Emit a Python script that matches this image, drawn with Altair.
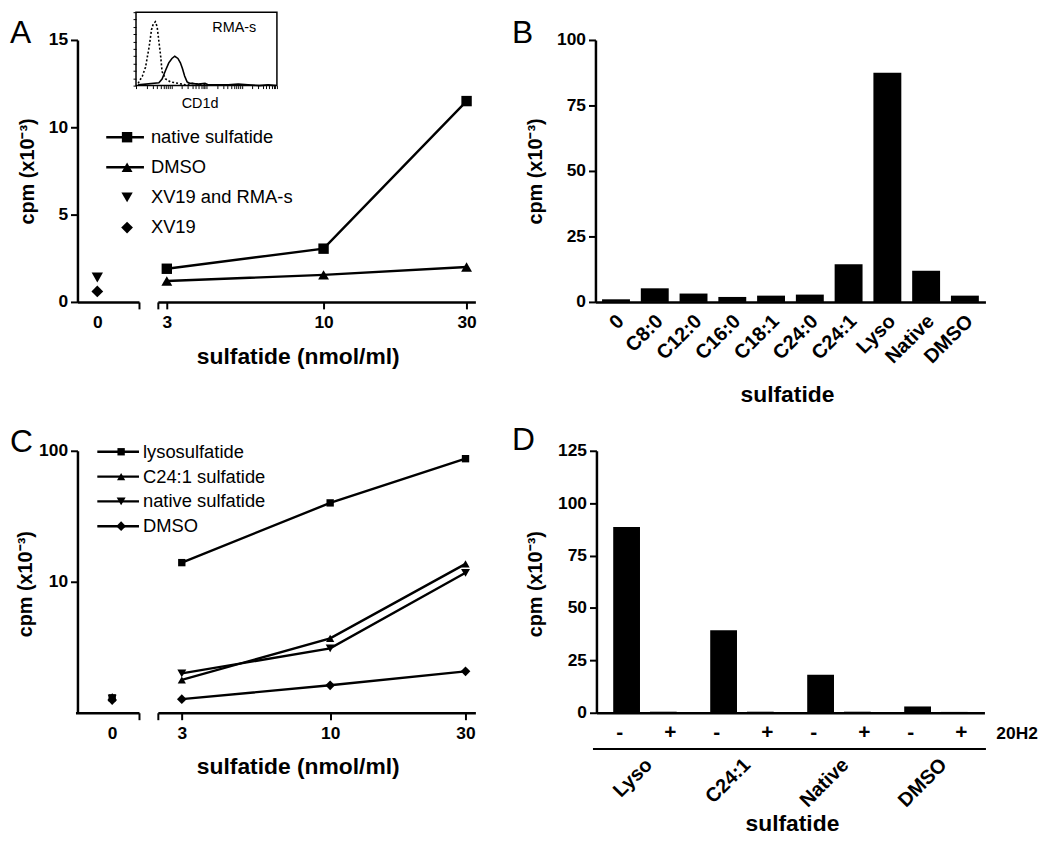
import altair as alt
import pandas as pd
import numpy as np

FONT = "Liberation Sans"
W, H = 1042, 828


def c(v):
    # page pixel -> chart pixel (page has an 8px margin)
    return v - 8


# ---------------- data ----------------
# Panel A
doses = [3, 10, 30]
a_native = [1.9, 3.05, 11.5]
a_dmso = [1.2, 1.55, 2.0]
a_series = ["native sulfatide", "DMSO", "XV19 and RMA-s", "XV19"]
a_shapes = ["square", "triangle-up", "triangle-down", "diamond"]
a_sizes = [110, 140, 140, 120]
a_zero_series = ["XV19 and RMA-s", "XV19"]
a_zero_vals = [1.4, 0.6]

# inset histogram (log decades vs counts)
inset_dot_x = [0.06, 0.18, 0.27, 0.37, 0.44, 0.49, 0.55, 0.60, 0.65, 0.70, 0.74, 0.84, 0.98, 1.21, 1.40, 1.59, 2.06]
inset_dot_y = [3, 13, 25, 52, 76, 84, 87, 80, 60, 40, 19, 9, 5, 3, 1, 3, 1]
inset_solid_x = [0.06, 0.65, 0.74, 0.84, 0.93, 1.02, 1.10, 1.19, 1.26, 1.32, 1.38, 1.45, 1.54, 1.78, 1.96,
                 2.06, 2.30, 2.62, 2.90, 3.18, 3.50, 3.75, 3.98]
inset_solid_y = [1, 4, 9, 21, 31, 37, 40, 37, 31, 23, 13, 5, 3, 2, 3, 1, 1, 1, 2, 1, 0, 1, 0]

# Panel B
b_cats = ["0", "C8:0", "C12:0", "C16:0", "C18:1", "C24:0", "C24:1", "Lyso", "Native", "DMSO"]
b_vals = [1.0, 5.2, 3.2, 1.9, 2.4, 2.8, 14.4, 87.5, 11.9, 2.4]

# Panel C
c_series = ["lysosulfatide", "C24:1 sulfatide", "native sulfatide", "DMSO"]
c_shapes = ["square", "triangle-up", "triangle-down", "diamond"]
c_sizes = [55, 95, 95, 85]
c_lyso = [14.0, 40.0, 87.0]
c_c241 = [1.78, 3.7, 13.7]
c_native = [2.0, 3.1, 11.7]
c_dmso = [1.27, 1.62, 2.07]
c_zero = [1.3, 1.33, 1.28, 1.25]

# Panel D
d_groups = ["Lyso", "C24:1", "Native", "DMSO"]
d_treat = ["-", "+"]
d_minus = [88.6, 39.4, 18.1, 3.0]
d_plus = [0.5, 0.5, 0.5, 0.4]


# ---------------- helpers ----------------
def axis(**kw):
    base = dict(domainColor="black", domainWidth=2.5, tickColor="black", tickWidth=2,
                labelColor="black", labelFont=FONT, labelFontSize=17.5, labelFontWeight="bold",
                titleFont=FONT, titleColor="black", titleFontWeight="bold", grid=False,
                labelFlush=False, labelOverlap=False)
    base.update(kw)
    return alt.Axis(**base)


def cpm_axis(x_px, values, title_x_px, title_y_px):
    return axis(orient="left", offset=-c(x_px), values=values, tickSize=7, labelPadding=3,
                title="cpm (x10⁻³)", titleFontSize=20, titleAngle=270, titleAlign="center",
                titleBaseline="middle", titleX=title_x_px - x_px, titleY=c(title_y_px))


def bottom_axis(y_px, **kw):
    return axis(orient="bottom", offset=c(y_px) - H, **kw)


def letter(t, x_px, y_px):
    return alt.Chart(pd.DataFrame({"t": [t]})).mark_text(
        align="left", baseline="alphabetic", font=FONT, fontSize=32, color="black"
    ).encode(x=alt.value(c(x_px)), y=alt.value(c(y_px)), text="t:N")


layers = []

# ---------------- Panel A ----------------
xAr = alt.Scale(type="log", domain=[2.8, 32.1], range=[c(159), c(479)], nice=False)
xAl = alt.Scale(domain=[-1, 2.1], range=[c(78), c(140)], nice=False, zero=False)
yA = alt.Scale(domain=[0, 15], range=[c(301), c(37)], nice=False, zero=False)
shA = alt.Scale(domain=a_series, range=a_shapes)
szA = alt.Scale(domain=a_series, range=a_sizes)

dfA = pd.DataFrame({"dose": doses * 2, "cpm": a_native + a_dmso,
                    "series": [a_series[0]] * 3 + [a_series[1]] * 3})
layers.append(alt.Chart(dfA).mark_line(color="black", strokeWidth=2.4).encode(
    x=alt.X("dose:Q", scale=xAr, axis=bottom_axis(
        301, values=[2.8, 3, 10, 30], labelExpr="datum.value < 2.9 ? '' : format(datum.value, 'd')",
        tickSize=7, labelPadding=5, title="sulfatide (nmol/ml)", titleFontSize=23,
        titleX=c(300), titleY=55, titleAlign="center", titleBaseline="middle")),
    y=alt.Y("cpm:Q", scale=yA, axis=cpm_axis(78, [0, 5, 10, 15], 28, 169)),
    detail="series:N"))
layers.append(alt.Chart(dfA).mark_point(filled=True, color="black", opacity=1).encode(
    x=alt.X("dose:Q", scale=xAr, axis=None),
    y=alt.Y("cpm:Q", scale=yA, axis=None),
    shape=alt.Shape("series:N", scale=shA, legend=None),
    size=alt.Size("series:O", scale=szA, legend=None)))

dfA0 = pd.DataFrame({"dose": [0, 0], "cpm": a_zero_vals, "series": a_zero_series})
layers.append(alt.Chart(dfA0).mark_point(filled=True, color="black", opacity=1).encode(
    x=alt.X("dose:Q", scale=xAl, axis=bottom_axis(
        301, values=[0, 2.1], labelExpr="datum.value == 0 ? '0' : ''", tickSize=7, labelPadding=5,
        title=None, tickOpacity={"condition": {"test": "datum.value == 0", "value": 0}, "value": 1})),
    y=alt.Y("cpm:Q", scale=yA, axis=None),
    shape=alt.Shape("series:N", scale=shA, legend=None),
    size=alt.Size("series:O", scale=szA, legend=None)))

# legend A
dfAL = pd.DataFrame({"series": a_series, "line": [1, 1, 0, 0]})
yAL = alt.Scale(type="point", domain=a_series, range=[c(135), c(226)], padding=0)
layers.append(alt.Chart(dfAL).transform_filter("datum.line == 1").mark_rule(
    color="black", strokeWidth=2.4).encode(
    x=alt.value(c(107)), x2=alt.value(c(145)), y=alt.Y("series:N", scale=yAL, axis=None)))
layers.append(alt.Chart(dfAL).mark_point(filled=True, color="black", opacity=1).encode(
    x=alt.value(c(128)), y=alt.Y("series:N", scale=yAL, axis=None),
    shape=alt.Shape("series:N", scale=shA, legend=None),
    size=alt.Size("series:O", scale=szA, legend=None)))
layers.append(alt.Chart(dfAL).mark_text(
    align="left", baseline="middle", font=FONT, fontSize=18.5, color="black").encode(
    x=alt.value(c(152)), y=alt.Y("series:N", scale=yAL, axis=None), text="series:N"))

# inset
insx = alt.Scale(domain=[0, 4], range=[c(137), c(279)], nice=False, zero=False)
insy = alt.Scale(domain=[0, 100], range=[c(83), 1], nice=False, zero=False)
ins_ticks = [float(np.log10(k * 10 ** d)) for d in range(4) for k in range(1, 10)] + [4.0]
dfI = pd.DataFrame({"x": inset_dot_x + inset_solid_x,
                    "y": inset_dot_y + inset_solid_y,
                    "curve": ["isotype"] * len(inset_dot_x) + ["CD1d"] * len(inset_solid_x)})
layers.append(alt.Chart(dfI).transform_filter("datum.curve == 'isotype'").mark_line(
    color="black", strokeWidth=1.6, strokeDash=[2, 2]).encode(
    x=alt.X("x:Q", scale=insx, axis=alt.Axis(
        orient="bottom", offset=c(83) - H, values=ins_ticks, labels=False, tickSize=3, tickWidth=1,
        tickColor="black", domain=False, grid=False, title="CD1d", titleFont=FONT, titleFontSize=14.5,
        titleFontWeight="normal", titleColor="black", titleX=c(201), titleY=18,
        titleAlign="center", titleBaseline="middle")),
    y=alt.Y("y:Q", scale=insy, axis=alt.Axis(
        orient="left", offset=-c(137), values=list(range(0, 101, 10)), labels=False, tickSize=3,
        tickWidth=1, tickColor="black", domain=False, grid=False, title=None))))
layers.append(alt.Chart(dfI).transform_filter("datum.curve == 'CD1d'").mark_line(
    color="black", strokeWidth=1.6).encode(
    x=alt.X("x:Q", scale=insx, axis=None), y=alt.Y("y:Q", scale=insy, axis=None)))
layers.append(alt.Chart(pd.DataFrame({"a": [0]})).mark_rect(
    fillOpacity=0, stroke="black", strokeWidth=1.5).encode(
    x=alt.X(datum=0, scale=insx, axis=None), x2=alt.X2(datum=4),
    y=alt.Y(datum=0, scale=insy, axis=None), y2=alt.Y2(datum=100)))
layers.append(alt.Chart(pd.DataFrame({"t": ["RMA-s"]})).mark_text(
    align="center", baseline="middle", font=FONT, fontSize=14.5, color="black").encode(
    x=alt.value(c(236)), y=alt.value(c(25)), text="t:N"))

# ---------------- Panel B ----------------
xB = alt.Scale(domain=b_cats, range=[c(600), c(993)], paddingInner=0.28, paddingOuter=0.17)
yB = alt.Scale(domain=[0, 100], range=[c(301), c(37)], nice=False, zero=False)
dfB = pd.DataFrame({"cat": b_cats, "cpm": b_vals})
layers.append(alt.Chart(dfB).mark_bar(color="black").encode(
    x=alt.X("cat:N", scale=xB, sort=b_cats, axis=bottom_axis(
        301, ticks=False, labelAngle=315, labelAlign="right", labelBaseline="middle",
        labelFontSize=20, labelPadding=16, labelOffset=5, title="sulfatide", titleFontSize=23,
        titleX=c(793), titleY=93, titleAlign="center", titleBaseline="middle")),
    y=alt.Y("cpm:Q", scale=yB, axis=cpm_axis(600, [0, 25, 50, 75, 100], 540, 169))))

# ---------------- Panel C ----------------
xCr = alt.Scale(type="log", domain=[2.47, 32.5], range=[c(159), c(479)], nice=False)
xCl = alt.Scale(domain=[-1, 0.73], range=[c(76), c(140)], nice=False, zero=False)
yC = alt.Scale(type="log", domain=[1, 100], range=[c(715), c(451)], nice=False)
shC = alt.Scale(domain=c_series, range=c_shapes)
szC = alt.Scale(domain=c_series, range=c_sizes)

dfC = pd.DataFrame({"dose": doses * 4,
                    "cpm": c_lyso + c_c241 + c_native + c_dmso,
                    "series": sum([[s] * 3 for s in c_series], [])})
layers.append(alt.Chart(dfC).mark_line(color="black", strokeWidth=2.4).encode(
    x=alt.X("dose:Q", scale=xCr, axis=bottom_axis(
        715, values=[2.47, 3, 10, 30], labelExpr="datum.value < 2.9 ? '' : format(datum.value, 'd')",
        tickSize=7, labelPadding=5, title="sulfatide (nmol/ml)", titleFontSize=23,
        titleX=c(300), titleY=54, titleAlign="center", titleBaseline="middle")),
    y=alt.Y("cpm:Q", scale=yC, axis=cpm_axis(78, [10, 100], 26, 585)),
    detail="series:N"))
layers.append(alt.Chart(dfC).mark_point(filled=True, color="black", opacity=1).encode(
    x=alt.X("dose:Q", scale=xCr, axis=None),
    y=alt.Y("cpm:Q", scale=yC, axis=None),
    shape=alt.Shape("series:N", scale=shC, legend=None),
    size=alt.Size("series:O", scale=szC, legend=None)))

dfC0 = pd.DataFrame({"dose": [0] * 4, "cpm": c_zero, "series": c_series})
layers.append(alt.Chart(dfC0).mark_point(filled=True, color="black", opacity=1).encode(
    x=alt.X("dose:Q", scale=xCl, axis=bottom_axis(
        715, values=[0, 0.73], labelExpr="datum.value == 0 ? '0' : ''", tickSize=7, labelPadding=5,
        title=None, tickOpacity={"condition": {"test": "datum.value == 0", "value": 0}, "value": 1})),
    y=alt.Y("cpm:Q", scale=yC, axis=None),
    shape=alt.Shape("series:N", scale=shC, legend=None),
    size=alt.Size("series:O", scale=szC, legend=None)))

# legend C
dfCL = pd.DataFrame({"series": c_series})
yCL = alt.Scale(type="point", domain=c_series, range=[c(452), c(527)], padding=0)
layers.append(alt.Chart(dfCL).mark_rule(color="black", strokeWidth=2.4).encode(
    x=alt.value(c(98)), x2=alt.value(c(140)), y=alt.Y("series:N", scale=yCL, axis=None)))
layers.append(alt.Chart(dfCL).mark_point(filled=True, color="black", opacity=1).encode(
    x=alt.value(c(122)), y=alt.Y("series:N", scale=yCL, axis=None),
    shape=alt.Shape("series:N", scale=shC, legend=None),
    size=alt.Size("series:O", scale=szC, legend=None)))
layers.append(alt.Chart(dfCL).mark_text(
    align="left", baseline="middle", font=FONT, fontSize=18.5, color="black").encode(
    x=alt.value(c(144)), y=alt.Y("series:N", scale=yCL, axis=None), text="series:N"))

# ---------------- Panel D ----------------
xDg = alt.Scale(domain=d_groups, range=[c(601), c(992)], paddingInner=0, paddingOuter=0)
xDo = alt.Scale(domain=d_treat, paddingInner=0.27, paddingOuter=0.457)
yD = alt.Scale(domain=[0, 125], range=[c(715), c(451)], nice=False, zero=False)
dfD = pd.DataFrame({"group": d_groups * 2, "treat": ["-"] * 4 + ["+"] * 4, "cpm": d_minus + d_plus})
layers.append(alt.Chart(dfD).mark_bar(color="black").encode(
    x=alt.X("group:N", scale=xDg, sort=d_groups, axis=bottom_axis(
        715, ticks=False, labels=False, title=None)),
    xOffset=alt.XOffset("treat:N", scale=xDo, sort=d_treat),
    y=alt.Y("cpm:Q", scale=yD, axis=cpm_axis(601, [0, 25, 50, 75, 100, 125], 540, 585))))
layers.append(alt.Chart(dfD).mark_text(
    align="center", baseline="middle", font=FONT, fontSize=21, fontWeight="bold", color="black").encode(
    x=alt.X("group:N", scale=xDg, sort=d_groups, axis=None),
    xOffset=alt.XOffset("treat:N", scale=xDo, sort=d_treat),
    y=alt.value(c(735)), text="treat:N"))
dfDG = pd.DataFrame({"group": d_groups})
layers.append(alt.Chart(dfDG).mark_point(opacity=0, size=1).encode(
    x=alt.X("group:N", sort=d_groups,
            scale=alt.Scale(domain=d_groups, range=[c(597), c(993)], paddingInner=0, paddingOuter=0),
            axis=bottom_axis(751, ticks=False, domainWidth=2, labelAngle=315, labelAlign="right",
                             labelBaseline="middle", labelFontSize=20, labelPadding=13, labelOffset=7,
                             title="sulfatide", titleFontSize=23, titleX=c(798), titleY=76,
                             titleAlign="center", titleBaseline="middle")),
    y=alt.value(c(751))))
layers.append(alt.Chart(pd.DataFrame({"t": ["20H2"]})).mark_text(
    align="left", baseline="middle", font=FONT, fontSize=17.5, fontWeight="bold", color="black").encode(
    x=alt.value(c(1004)), y=alt.value(c(736)), text="t:N"))

# panel letters
layers += [letter("A", 10, 40), letter("B", 516, 40), letter("C", 10, 452), letter("D", 516, 450)]

chart = alt.layer(*layers).resolve_scale(
    x="independent", y="independent", shape="independent", size="independent", xOffset="independent"
).properties(
    width=W, height=H, padding=0, autosize=alt.AutoSizeParams(type="none")
).configure_view(
    stroke="transparent", strokeWidth=0, strokeOpacity=0
).configure_axis(grid=False).configure(
    font=FONT, background="white", style={"cell": {"stroke": "transparent", "strokeWidth": 0}}
)

chart.save("out.html", embed_options={"renderer": "svg", "actions": False})
